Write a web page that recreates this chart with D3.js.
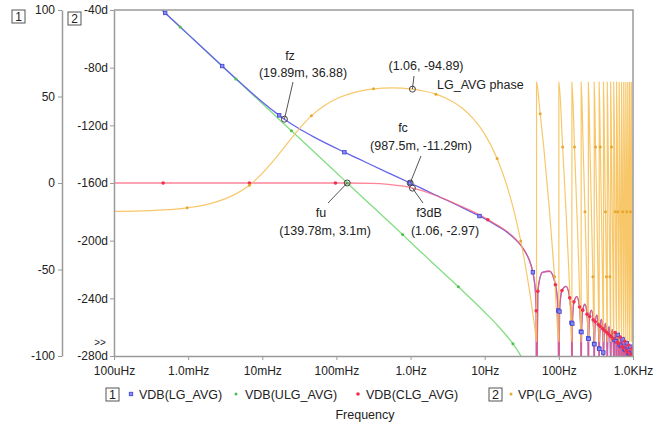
<!DOCTYPE html>
<html><head><meta charset="utf-8">
<script src="https://cdn.jsdelivr.net/npm/d3@7"></script>
<style>
body{margin:0;background:#fff}
svg{display:block}
text{font-family:"Liberation Sans",Arial,sans-serif}
</style>
</head><body>
<svg id="c" width="662" height="425"></svg>
<script>
// ---------- tick labels ----------
const freqTicks = [1e-4, 1e-3, 1e-2, 1e-1, 1, 10, 100, 1000];
const freqLabels = ["100uHz", "1.0mHz", "10mHz", "100mHz", "1.0Hz", "10Hz", "100Hz", "1.0KHz"];
const dbTicks = [100, 50, 0, -50, -100];
const phaseTicks = [-40, -80, -120, -160, -200, -240, -280];
const legendLabels = ["VDB(LG_AVG)", "VDB(ULG_AVG)", "VDB(CLG_AVG)", "VP(LG_AVG)"];

// ---------- series values [frequency Hz, value] ----------
const lgLow = [[0.0004,101.8],[0.00049,98.3],[0.001,85.9],[0.00288,67.6],[0.005,58.2],[0.01,46.8],
  [0.0169,39.1],[0.01989,36.9],[0.03,31.9],[0.05,26.5],[0.128,17.8],[0.2,13.9],[0.5,5.9],[0.9875,0],
  [2,-6.2],[5,-14.2],[8.5,-19.1],[10,-20.6],[15,-25.0],[20,-28.4],[25,-32.0],[30,-35.5],[35,-39.7],[40,-44.7]];
const ulg = [[0.0004,101.8],[0.00078,90.2],[0.001,85.9],[0.0044,60.1],[0.01,45.9],[0.0247,30.2],[0.1,5.9],
  [0.1398,0],[0.78,-29.8],[1,-34.2],[3,-53.3],[4.4,-60.0],[10,-74.7],[15,-82.5],[20,-88.6],[24,-92.9],
  [25,-94.0],[30,-99.2],[35,-104.6]];
const clgLow = [[0.0001,0],[0.00046,0],[0.0067,0],[0.097,0],[0.1398,0.003],[0.3,-0.17],[0.5,-0.74],
  [0.8,-1.86],[1.06,-2.97],[1.5,-4.74],[2,-6.64],[3,-9.61],[5,-13.8],[10,-20.1],[11,-21.2],[20,-28.1],
  [30,-35.4],[40,-44.7]];
// averaging roll-off with notches (LG and CLG coincide here)
const rollMag = [[44.6,-51.6],[47,-57.5],[48.5,-64.0],[49.5,-73.9],[50,-140],
  [52,-62.6],[60,-51.7],[75,-51.0],[90,-58.8],[98,-73.7],[100,-140],
  [102,-74.3],[110,-62.2],[125,-59.8],[140,-66.4],[148,-80.8],[150,-140],
  [152,-81.3],[160,-68.7],[175,-65.7],[190,-71.7],[198,-85.9],[200,-140],
  [202,-86.2],[210,-73.5],[225,-70.1],[240,-75.8],[248,-89.8],[250,-140],
  [252,-90.1],[260,-77.2],[275,-73.5],[290,-79.1],[298,-93.0],[300,-140],
  [302,-93.2],[310,-80.2],[325,-76.4],[340,-81.8],[348,-95.7],[350,-140],
  [352,-95.9],[360,-82.8],[375,-78.9],[390,-84.2],[398,-98.0],[400,-140],
  [402,-98.2],[410,-85.1],[425,-81.1],[440,-86.3],[448,-100.1],[450,-140],
  [452,-100.2],[460,-87.1],[475,-83.0],[490,-88.2],[498,-101.9],[500,-140],
  [502,-102.0],[510,-88.9],[525,-84.8],[540,-89.9],[548,-103.6],[550,-140],
  [560,-90.5],[575,-86.4],[590,-91.4],[600,-140],
  [610,-92.0],[625,-87.8],[640,-92.8],[650,-140],
  [660,-93.4],[675,-89.1],[690,-94.1],[700,-140],
  [710,-94.6],[725,-90.4],[740,-95.4],[750,-140],
  [760,-95.8],[775,-91.5],[790,-96.5],[800,-140],
  [810,-96.9],[825,-92.6],[840,-97.6],[850,-140],
  [860,-98.0],[875,-93.6],[890,-98.6],[900,-140],
  [910,-98.9],[925,-94.6],[940,-99.5],[950,-140],
  [960,-99.9],[975,-95.5],[990,-100.4],[1000,-140]];
const phaseLow = [[0.0001,-179.7],[0.0003,-179.1],[0.00097,-177.2],[0.002,-174.3],[0.004,-168.6],
  [0.0067,-161.5],[0.01,-153.3],[0.015,-143.0],[0.02,-134.9],[0.03,-123.6],[0.0459,-113.4],[0.07,-106.1],
  [0.1,-101.6],[0.2,-96.4],[0.316,-94.7],[0.56,-94.05],[1.06,-94.89],[1.5,-96.2],[2.2,-98.4],[3,-101.2],
  [5,-108.2],[7,-115.4],[10,-126.1],[14.7,-143.0],[20,-162.1],[25,-180.1],[30.6,-200.2],[35,-216],
  [40,-234],[45,-252],[48,-262.8],[49.99,-270]];
const phaseLobes = [[50.01,-90],[56,-112],[62.5,-135],[75,-180],[87.5,-225],[99.99,-270],
  [100.01,-90],[112.5,-135],[125,-180],[137.5,-225],[149.99,-270],
  [150.01,-90],[162.5,-135],[175,-180],[187.5,-225],[199.99,-270],
  [200.01,-90],[212.5,-135],[225,-180],[237.5,-225],[249.99,-270],
  [250.01,-90],[262.5,-135],[275,-180],[287.5,-225],[299.99,-270],
  [300.01,-90],[312.5,-135],[325,-180],[337.5,-225],[349.99,-270],
  [350.01,-90],[362.5,-135],[375,-180],[387.5,-225],[399.99,-270],
  [400.01,-90],[412.5,-135],[425,-180],[437.5,-225],[449.99,-270],
  [450.01,-90],[462.5,-135],[475,-180],[487.5,-225],[499.99,-270],
  [500.01,-90],[512.5,-135],[525,-180],[537.5,-225],[549.99,-270],
  [550.01,-90],[575,-180],[599.99,-270],[600.01,-90],[625,-180],[649.99,-270],
  [650.01,-90],[675,-180],[699.99,-270],[700.01,-90],[725,-180],[749.99,-270],
  [750.01,-90],[775,-180],[799.99,-270],[800.01,-90],[825,-180],[849.99,-270],
  [850.01,-90],[875,-180],[899.99,-270],[900.01,-90],[925,-180],[949.99,-270],
  [950.01,-90],[975,-180],[999.99,-270]];

// marker sample frequencies
const lgMarkF = [0.00049,0.00288,0.0169,0.128,0.9875,8.5,44.6,98,102,148,152,198,202,248,252,298,302,348,352,398,560,590,625,660,690,725,760,790,825,860,890,925,960,990];
const ulgMarkF = [0.00078,0.0044,0.0247,0.1398,0.78,4.4,24];
const clgMarkF = [0.00046,0.0067,0.097,11,49.5,52,90,110,140,160,190,210,240,260,290,310,340,360,390,410,440,460,490,510,540,575,610,640,675,710,740,775,810,840,875,910,940,975];
const phMarkF = [0.00097,0.0067,0.0459,0.316,2.2,14.7,30.6,56,87.5,112.5,162.5,225,287.5,312.5,362.5,425,437.5,487.5,512.5,575,625,725,825,925];

// annotations [f, value]
const fz = [0.01989, 36.88], fc = [0.9875, -0.01129], fu = [0.13978, 0.0031], f3 = [1.06, -2.97], pk = [1.06, -94.89];

// ---------- drawing ----------
const svg = d3.select("#c");
const L = 114, R = 633, T = 10, B = 356;
const x = d3.scaleLog().domain([1e-4, 1e3]).range([L, R]);
const yDb = d3.scaleLinear().domain([-100, 100]).range([B, T]);
const yPh = d3.scaleLinear().domain([-280, -40]).range([B, T]);

const col = {lg:"#6464ec", ulg:"#82de82", clg:"#ff5a74", ph:"#f6c15a"};
const axisCol = "#9a9a9a", txtCol = "#222";

svg.append("defs").append("clipPath").attr("id","clip")
  .append("rect").attr("x",L).attr("y",T).attr("width",R-L).attr("height",B-T);

const plot = svg.append("g").attr("clip-path","url(#clip)");

const lineDb = d3.line().x(d=>x(d[0])).y(d=>yDb(d[1])).curve(d3.curveMonotoneX);
const linePh = d3.line().x(d=>x(d[0])).y(d=>yPh(d[1])).curve(d3.curveMonotoneX);

const lg = lgLow.concat(rollMag);
const clg = clgLow.concat(rollMag);
const ph = phaseLow.concat(phaseLobes);

function pick(series, fs){ return series.filter(d => fs.includes(d[0])); }

plot.append("path").attr("d", lineDb(ulg)).attr("fill","none").attr("stroke",col.ulg).attr("stroke-width",1.3);
plot.append("path").attr("d", lineDb(lg)).attr("fill","none").attr("stroke",col.lg).attr("stroke-width",1.3);
plot.append("path").attr("d", lineDb(clg)).attr("fill","none").attr("stroke",col.clg).attr("stroke-width",1.3).attr("stroke-opacity",0.75);
plot.append("path").attr("d", linePh(ph)).attr("fill","none").attr("stroke",col.ph).attr("stroke-width",1.2).attr("stroke-opacity",0.9);

// markers
plot.selectAll(".mg").data(pick(ulg, ulgMarkF)).join("circle")
  .attr("cx",d=>x(d[0])).attr("cy",d=>yDb(d[1])).attr("r",1.5).attr("fill","#4cc04c");
plot.selectAll(".mb").data(pick(lg, lgMarkF)).join("rect")
  .attr("x",d=>x(d[0])-1.75).attr("y",d=>yDb(d[1])-1.75).attr("width",3.5).attr("height",3.5)
  .attr("fill","#8a8af4").attr("stroke","#4040d0").attr("stroke-width",0.8);
plot.selectAll(".mr").data(pick(clg, clgMarkF)).join("circle")
  .attr("cx",d=>x(d[0])).attr("cy",d=>yDb(d[1])).attr("r",1.8).attr("fill","#f03050");
plot.selectAll(".mo").data(pick(ph, phMarkF)).join("circle")
  .attr("cx",d=>x(d[0])).attr("cy",d=>yPh(d[1])).attr("r",1.5).attr("fill","#e8a830");

// frame
svg.append("path").attr("d",`M${L},${T}H${R}V${B}`).attr("fill","none").attr("stroke",axisCol).attr("stroke-width",1.5);

function styleAxis(g){
  g.select(".domain").attr("stroke",axisCol).attr("stroke-width",1.5);
  g.selectAll(".tick line").attr("stroke",axisCol);
  g.selectAll(".tick text").attr("fill",txtCol).style("font-size","12px").style("font-family",'"Liberation Sans",Arial,sans-serif');
}
svg.append("g").attr("transform",`translate(0,${B})`)
  .call(d3.axisBottom(x).tickValues(freqTicks).tickFormat((d,i)=>freqLabels[i]).tickSize(4).tickSizeOuter(0).tickPadding(6))
  .call(styleAxis);
svg.append("g").attr("transform",`translate(62,0)`)
  .call(d3.axisLeft(yDb).tickValues(dbTicks).tickFormat(d=>d).tickSize(4).tickSizeOuter(0).tickPadding(3))
  .call(styleAxis);
svg.append("g").attr("transform",`translate(${L},0)`)
  .call(d3.axisLeft(yPh).tickValues(phaseTicks).tickFormat(d=>d+"d").tickSize(4).tickSizeOuter(0).tickPadding(2))
  .call(styleAxis);

svg.append("text").attr("x",100).attr("y",346).attr("text-anchor","middle").attr("fill",txtCol).style("font-size","10px").text(">>");

function boxLabel(bx, by, t){
  svg.append("rect").attr("x",bx).attr("y",by).attr("width",13).attr("height",13).attr("fill","none").attr("stroke","#555").attr("stroke-width",1);
  svg.append("text").attr("x",bx+6.5).attr("y",by+11).attr("text-anchor","middle").attr("fill",txtCol).style("font-size","12px").text(t);
}
boxLabel(12, 10, "1");
boxLabel(68, 12, "2");

// annotations
const ann = svg.append("g").style("font-size","12.5px").attr("fill",txtCol);
function callout(px, py, lx, ly){
  svg.append("line").attr("x1",px).attr("y1",py).attr("x2",lx).attr("y2",ly).attr("stroke","#555").attr("stroke-width",1);
  svg.append("circle").attr("cx",px).attr("cy",py).attr("r",3).attr("fill","none").attr("stroke","#444").attr("stroke-width",1);
}
function txt(tx, ty, s){ ann.append("text").attr("x",tx).attr("y",ty).attr("text-anchor","middle").text(s); }

callout(x(fz[0]), yDb(fz[1]), 293, 82);
txt(290, 60, "fz"); txt(303, 77, "(19.89m, 36.88)");
callout(x(pk[0]), yPh(pk[1]), 414, 76);
txt(426, 70, "(1.06, -94.89)");
ann.append("text").attr("x",437).attr("y",89).text("LG_AVG phase");
callout(x(fc[0]), yDb(fc[1]), 421, 156);
txt(403, 132, "fc"); txt(421, 150, "(987.5m, -11.29m)");
callout(x(fu[0]), yDb(fu[1]), 328, 203);
txt(321, 217, "fu"); txt(325, 235, "(139.78m, 3.1m)");
callout(x(f3[0]), yDb(f3[1]), 423, 203);
txt(429, 217, "f3dB"); txt(445, 235, "(1.06, -2.97)");

// legend
const lg1 = svg.append("g").style("font-size","12.5px").attr("fill",txtCol);
svg.append("rect").attr("x",106).attr("y",388).attr("width",13).attr("height",13).attr("fill","none").attr("stroke","#555");
lg1.append("text").attr("x",112.5).attr("y",399).attr("text-anchor","middle").text("1");
svg.append("rect").attr("x",129.25).attr("y",392.25).attr("width",3.5).attr("height",3.5).attr("fill","#8a8af4").attr("stroke","#4040d0").attr("stroke-width",0.8);
lg1.append("text").attr("x",139).attr("y",399).text(legendLabels[0]);
svg.append("circle").attr("cx",236).attr("cy",394).attr("r",1.5).attr("fill","#4cc04c");
lg1.append("text").attr("x",245).attr("y",399).text(legendLabels[1]);
svg.append("circle").attr("cx",358).attr("cy",394).attr("r",1.8).attr("fill","#f03050");
lg1.append("text").attr("x",366).attr("y",399).text(legendLabels[2]);
svg.append("rect").attr("x",489).attr("y",388).attr("width",13).attr("height",13).attr("fill","none").attr("stroke","#555");
lg1.append("text").attr("x",495.5).attr("y",399).attr("text-anchor","middle").text("2");
svg.append("circle").attr("cx",511).attr("cy",394).attr("r",1.5).attr("fill","#e8a830");
lg1.append("text").attr("x",518).attr("y",399).text(legendLabels[3]);

svg.append("text").attr("x",365).attr("y",419).attr("text-anchor","middle").attr("fill",txtCol).style("font-size","12.5px").text("Frequency");
</script>
</body></html>
